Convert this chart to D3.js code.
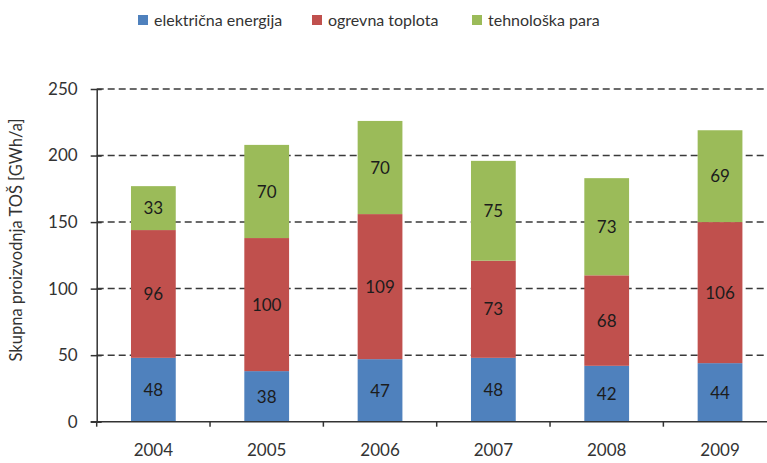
<!DOCTYPE html>
<html>
<head>
<meta charset="utf-8">
<script src="https://cdn.jsdelivr.net/npm/d3@7/dist/d3.min.js"></script>
<style>
  html, body { margin: 0; padding: 0; background: #fff; }
  svg { display: block; font-family: Lato, "Open Sans", sans-serif; }
</style>
</head>
<body>
<svg id="chart" width="767" height="463"></svg>
<script>
// Production by year, stacked by energy type (GWh/a)
const years = ["2004", "2005", "2006", "2007", "2008", "2009"];
const seriesNames = ["električna energija", "ogrevna toplota", "tehnološka para"];
const elektricna = [48, 38, 47, 48, 42, 44];
const ogrevna = [96, 100, 109, 73, 68, 106];
const tehnoloska = [33, 70, 70, 75, 73, 69];
const yTicks = [0, 50, 100, 150, 200, 250];
const colors = ["#4f81bd", "#c0504d", "#9bbb59"];

const svg = d3.select("#chart");
const margin = { left: 96.7, right: -9.7, top: 89, bottom: 41.3 };
const W = 767, H = 463;

const x = d3.scaleBand()
  .domain(years)
  .range([margin.left, W - margin.right])
  .paddingInner(0.605)
  .paddingOuter(0.3025);

const y = d3.scaleLinear()
  .domain([0, 250])
  .range([H - margin.bottom, margin.top]);

// Dashed horizontal gridlines (behind bars)
svg.append("g")
  .selectAll("line")
  .data(yTicks.filter(d => d > 0))
  .join("line")
  .attr("x1", margin.left)
  .attr("x2", W)
  .attr("y1", d => y(d))
  .attr("y2", d => y(d))
  .attr("stroke", "#3a3a3a")
  .attr("stroke-width", 1.5)
  .attr("stroke-dasharray", "7,4");

// Stack the series
const rows = years.map((yr, i) => ({
  year: yr,
  s0: elektricna[i],
  s1: ogrevna[i],
  s2: tehnoloska[i]
}));
const stack = d3.stack().keys(["s0", "s1", "s2"]);
const stacked = stack(rows);

const layers = svg.append("g")
  .selectAll("g")
  .data(stacked)
  .join("g")
  .attr("fill", (d, i) => colors[i]);

layers.selectAll("rect")
  .data(d => d)
  .join("rect")
  .attr("x", d => x(d.data.year))
  .attr("width", x.bandwidth())
  .attr("y", d => y(d[1]))
  .attr("height", d => y(d[0]) - y(d[1]));

// Value labels centred in each segment
svg.append("g")
  .selectAll("g")
  .data(stacked)
  .join("g")
  .selectAll("text")
  .data(d => d.map(p => ({ p, v: p[1] - p[0] })))
  .join("text")
  .attr("x", d => x(d.p.data.year) + x.bandwidth() / 2)
  .attr("y", d => y((d.p[0] + d.p[1]) / 2))
  .attr("dy", "0.36em")
  .attr("text-anchor", "middle")
  .attr("font-size", 17)
  .attr("fill", "#1c1c1c")
  .text(d => d.v);

// Y axis with crossing ticks
const yAxis = d3.axisLeft(y)
  .tickValues(yTicks)
  .tickSizeInner(6)
  .tickSizeOuter(0)
  .tickPadding(13);
const gy = svg.append("g")
  .attr("transform", `translate(${margin.left},0)`)
  .call(yAxis);
gy.select(".domain").attr("stroke", "#333").attr("stroke-width", 1.5);
gy.selectAll(".tick line")
  .attr("x1", 5)
  .attr("x2", -6)
  .attr("stroke", "#333")
  .attr("stroke-width", 1.5);
gy.selectAll(".tick text")
  .attr("font-size", 17)
  .attr("font-family", "Lato, 'Open Sans', sans-serif")
  .attr("fill", "#333");

// X axis: line along zero, ticks at band boundaries
const xBase = y(0);
svg.append("line")
  .attr("x1", margin.left - 6)
  .attr("x2", W)
  .attr("y1", xBase)
  .attr("y2", xBase)
  .attr("stroke", "#333")
  .attr("stroke-width", 1.5);
const step = x.step();
const boundaries = years.map((yr, i) => margin.left + i * step);
svg.append("g")
  .selectAll("line")
  .data(boundaries)
  .join("line")
  .attr("x1", d => d)
  .attr("x2", d => d)
  .attr("y1", xBase)
  .attr("y2", xBase + 5)
  .attr("stroke", "#333")
  .attr("stroke-width", 1.5);
svg.append("g")
  .selectAll("text")
  .data(years)
  .join("text")
  .attr("x", d => x(d) + x.bandwidth() / 2)
  .attr("y", xBase + 34)
  .attr("text-anchor", "middle")
  .attr("font-size", 17)
  .attr("fill", "#333")
  .text(d => d);

// Y axis title
svg.append("text")
  .attr("transform", `translate(22,240) rotate(-90)`)
  .attr("text-anchor", "middle")
  .attr("font-size", 16.5)
  .attr("fill", "#333")
  .text("Skupna proizvodnja TOŠ [GWh/a]");

// Legend
const legendX = [138, 312, 472];
const legend = svg.append("g")
  .selectAll("g")
  .data(seriesNames)
  .join("g")
  .attr("transform", (d, i) => `translate(${legendX[i]},20)`);
legend.append("rect")
  .attr("x", 0)
  .attr("y", -5)
  .attr("width", 10)
  .attr("height", 10)
  .attr("fill", (d, i) => colors[i]);
legend.append("text")
  .attr("x", 16)
  .attr("y", 0)
  .attr("dy", "0.35em")
  .attr("font-size", 16)
  .attr("fill", "#333")
  .text(d => d);
</script>
</body>
</html>
